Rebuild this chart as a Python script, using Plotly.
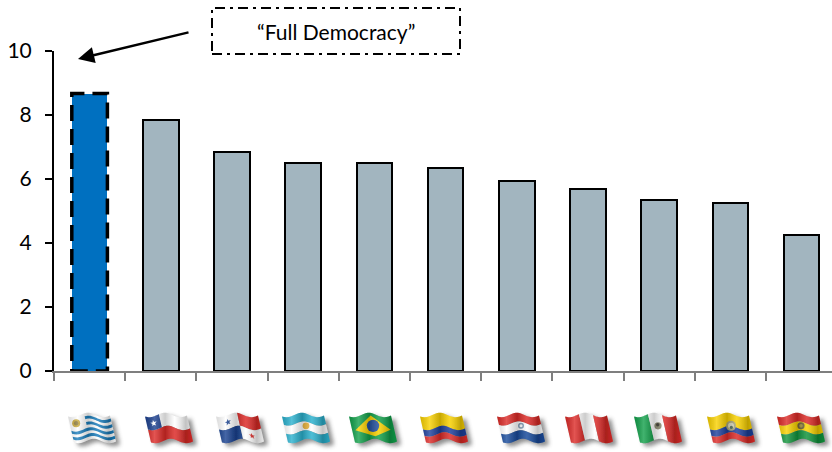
import base64
import math
import plotly.graph_objects as go

# Democracy index scores, highest to lowest
countries = ["Uruguay", "Chile", "Panama", "Argentina", "Brazil", "Colombia",
             "Paraguay", "Peru", "Mexico", "Ecuador", "Bolivia"]
scores = [8.67, 7.83, 6.83, 6.51, 6.49, 6.34, 5.93, 5.68, 5.33, 5.24, 4.24]
y_ticks = [0, 2, 4, 6, 8, 10]
callout_text = "“Full Democracy”"

GREY_BAR = "#A2B5BF"
BLUE_BAR = "#0070C0"
BAR_WIDTH = 0.5

# Page geometry in pixels
W, H = 832, 452
PLOT_L, PLOT_T, PLOT_B = 54, 51, 371
SLOT = 71.2


def paper_x(px):
    return (px - PLOT_L) / (W - PLOT_L)


def paper_y(py):
    return (PLOT_B - py) / (PLOT_B - PLOT_T)


# --- Waving flag icons, built as small SVG images ---
FW, FH = 60, 42


def warp(u, v):
    """Map flag coordinates (0..1, 0..1) onto the rippled, leaning cloth."""
    x = 3 + 42 * u + 6 * v
    y = 4 + 26 * v + 2.2 * math.sin(u * 2 * math.pi * 1.35 + 0.7)
    return x, y


def poly(points, color):
    d = " ".join(f"{a:.2f},{b:.2f}" for a, b in (warp(u, v) for u, v in points))
    return f'<polygon points="{d}" fill="{color}"/>'


def rect(u0, v0, u1, v1, color):
    n = 18
    top = [(u0 + (u1 - u0) * i / n, v0) for i in range(n + 1)]
    bottom = [(u1 - (u1 - u0) * i / n, v1) for i in range(n + 1)]
    return poly(top + bottom, color)


def disc(u, v, r, color):
    x, y = warp(u, v)
    return f'<circle cx="{x:.2f}" cy="{y:.2f}" r="{r}" fill="{color}"/>'


def star(u, v, r, color):
    pts = []
    for i in range(10):
        a = -math.pi / 2 + i * math.pi / 5
        k = r if i % 2 == 0 else r * 0.42
        pts.append((u + k * math.cos(a) / 43, v + k * math.sin(a) / 27))
    return poly(pts, color)


def h_bands(*bands):
    return [rect(0, v0, 1, v1, c) for v0, v1, c in bands]


RED, BLUE, WHITE = "#DC2A27", "#17408F", "#FFFFFF"
YELLOW, GREEN = "#F9D100", "#12A04A"
SKY = "#2BB1CE"

uruguay = [rect(0, 0, 1, 1, WHITE)]
for i in range(1, 9, 2):
    uruguay.append(rect(0.38 if i < 5 else 0, i / 9, 1, (i + 1) / 9, "#1B7DBC"))
uruguay += [disc(0.16, 0.24, 4, "#C9A93A"), disc(0.16, 0.24, 2.2, "#8C7A3A")]

chile = [rect(0, 0, 1, 0.5, WHITE), rect(0, 0.5, 1, 1, RED),
         rect(0, 0, 0.33, 0.5, "#1A3F8E"), star(0.17, 0.25, 3.4, WHITE)]

panama = [rect(0, 0, 0.5, 0.5, WHITE), rect(0.5, 0, 1, 0.5, RED),
          rect(0, 0.5, 0.5, 1, BLUE), rect(0.5, 0.5, 1, 1, WHITE),
          star(0.25, 0.25, 3.2, BLUE), star(0.75, 0.75, 3.2, RED)]

argentina = h_bands((0, 1 / 3, SKY), (1 / 3, 2 / 3, WHITE), (2 / 3, 1, SKY))
argentina.append(disc(0.5, 0.5, 3.4, "#EDB53B"))

brazil = [rect(0, 0, 1, 1, GREEN),
          poly([(0.5, 0.1), (0.92, 0.5), (0.5, 0.9), (0.08, 0.5)], YELLOW),
          disc(0.5, 0.5, 6.2, "#23509E")]

colombia = h_bands((0, 0.5, YELLOW), (0.5, 0.75, "#1D3F9C"), (0.75, 1, RED))

paraguay = h_bands((0, 1 / 3, RED), (1 / 3, 2 / 3, WHITE), (2 / 3, 1, "#174A9B"))
paraguay += [disc(0.5, 0.5, 3, "#7F9BB5"), disc(0.5, 0.5, 1.5, WHITE)]

peru = [rect(0, 0, 1 / 3, 1, RED), rect(1 / 3, 0, 2 / 3, 1, WHITE),
        rect(2 / 3, 0, 1, 1, RED)]

mexico = [rect(0, 0, 1 / 3, 1, GREEN), rect(1 / 3, 0, 2 / 3, 1, WHITE),
          rect(2 / 3, 0, 1, 1, RED), disc(0.5, 0.5, 3.6, "#8D8C72"),
          disc(0.5, 0.46, 1.7, "#3D3B32")]

ecuador = h_bands((0, 0.5, YELLOW), (0.5, 0.75, "#1D3F9C"), (0.75, 1, RED))
ecuador += [disc(0.5, 0.5, 5, "#A9A77B"), disc(0.5, 0.5, 3, "#D8D6BC"),
            disc(0.5, 0.56, 1.6, "#4E6A5A")]

bolivia = h_bands((0, 1 / 3, RED), (1 / 3, 2 / 3, YELLOW), (2 / 3, 1, "#12943C"))
bolivia += [disc(0.5, 0.5, 3.6, "#6E6336"), disc(0.5, 0.5, 1.8, "#A8963F")]

flag_art = [uruguay, chile, panama, argentina, brazil, colombia,
            paraguay, peru, mexico, ecuador, bolivia]
flag_left = [68, 145, 216, 282, 349, 420, 497, 565, 634, 707, 777]


def flag_uri(parts, key):
    outline = [(i / 18, 0) for i in range(19)] + [(1 - i / 18, 1) for i in range(19)]
    pts = " ".join(f"{a:.2f},{b:.2f}" for a, b in (warp(u, v) for u, v in outline))
    stops = "".join(
        f'<stop offset="{o}" stop-color="{c}" stop-opacity="{a}"/>'
        for o, c, a in [(0, "#000", 0.14), (0.2, "#fff", 0.2), (0.42, "#000", 0.2),
                        (0.62, "#fff", 0.16), (0.85, "#000", 0.24), (1, "#000", 0.08)]
    )
    svg = (
        f'<svg xmlns="http://www.w3.org/2000/svg" width="{FW * 3}" height="{FH * 3}" '
        f'viewBox="0 0 {FW} {FH}">'
        f'<defs><filter id="s{key}" x="-20%" y="-20%" width="140%" height="140%">'
        f'<feGaussianBlur stdDeviation="2.2"/></filter>'
        f'<filter id="c{key}"><feGaussianBlur stdDeviation="0.3"/></filter>'
        f'<linearGradient id="g{key}">{stops}</linearGradient></defs>'
        f'<polygon points="{pts}" fill="#444" opacity="0.6" '
        f'transform="translate(4 3)" filter="url(#s{key})"/>'
        f'<g filter="url(#c{key})">'
        + "".join(parts)
        + f'<polygon points="{pts}" fill="url(#g{key})"/></g></svg>'
    )
    return "data:image/svg+xml;base64," + base64.b64encode(svg.encode()).decode()


images = [
    dict(source=flag_uri(art, i), xref="paper", yref="paper",
         x=paper_x(left - 3), y=paper_y(411), sizex=FW / (W - PLOT_L),
         sizey=FH / (PLOT_B - PLOT_T), xanchor="left", yanchor="top",
         sizing="stretch", layer="above")
    for i, (art, left) in enumerate(zip(flag_art, flag_left))
]

# --- Chart ---
positions = list(range(len(scores)))

fig = go.Figure(
    go.Bar(
        x=positions,
        y=scores,
        width=BAR_WIDTH,
        hovertext=countries,
        marker=dict(
            color=[BLUE_BAR] + [GREY_BAR] * (len(scores) - 1),
            line=dict(color=["rgba(0,0,0,0)"] + ["#000000"] * (len(scores) - 1), width=2),
        ),
    )
)

shapes = [
    # Dashed outline around the leading bar
    dict(type="rect", xref="x", yref="y", x0=-BAR_WIDTH / 2, x1=BAR_WIDTH / 2,
         y0=0, y1=scores[0], line=dict(color="#000000", width=3.5, dash="16px,8px"),
         layer="above"),
    # Callout box
    dict(type="rect", xref="paper", yref="paper", x0=paper_x(212), x1=paper_x(460),
         y0=paper_y(54), y1=paper_y(8),
         line=dict(color="#000000", width=2, dash="10px,5px,3px,5px"), layer="above"),
]

annotations = [
    dict(text=callout_text, xref="paper", yref="paper", x=paper_x(336), y=paper_y(31),
         xanchor="center", yanchor="middle", showarrow=False,
         font=dict(family="Lato", size=21, color="#000000")),
    # Arrow from the callout toward the leading bar
    dict(text="", xref="paper", yref="paper", x=paper_x(78), y=paper_y(59),
         axref="pixel", ayref="pixel", ax=112, ay=-27, showarrow=True,
         arrowhead=2, arrowsize=1.3, arrowwidth=2.5, arrowcolor="#000000"),
]

fig.update_layout(
    width=W,
    height=H,
    margin=dict(l=PLOT_L, r=0, t=PLOT_T, b=H - PLOT_B, pad=0),
    paper_bgcolor="#FFFFFF",
    plot_bgcolor="#FFFFFF",
    showlegend=False,
    bargap=0,
    shapes=shapes,
    annotations=annotations,
    images=images,
    font=dict(family="Lato", size=21, color="#000000"),
    xaxis=dict(
        range=[-0.5, -0.5 + (W - PLOT_L) / SLOT],
        tickmode="array",
        tickvals=[p - 0.5 for p in positions] + [positions[-1] + 0.5],
        ticktext=[""] * (len(positions) + 1),
        ticks="outside",
        ticklen=8,
        tickwidth=1.5,
        tickcolor="#7F7F7F",
        showline=True,
        linecolor="#7F7F7F",
        linewidth=2,
        showgrid=False,
        zeroline=False,
        layer="above traces",
    ),
    yaxis=dict(
        range=[0, 10],
        tickmode="array",
        tickvals=y_ticks,
        ticks="outside",
        ticklen=7,
        tickwidth=1.5,
        tickcolor="#000000",
        ticklabelstandoff=9,
        showline=True,
        linecolor="#000000",
        linewidth=2,
        showgrid=False,
        zeroline=False,
    ),
)

fig.write_html("out.html", config=dict(displayModeBar=False))
